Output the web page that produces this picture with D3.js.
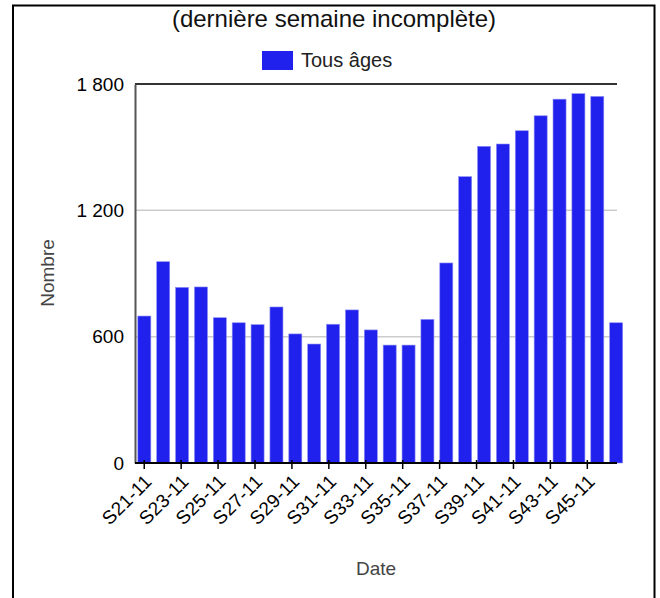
<!DOCTYPE html>
<html>
<head>
<meta charset="utf-8">
<script src="https://cdn.jsdelivr.net/npm/d3@7"></script>
<style>
  body { margin: 0; background: #fff; }
  svg { display: block; font-family: "Liberation Sans", Arial, sans-serif; }
</style>
</head>
<body>
<script>
// weekly counts, all ages
const weeks = ["S21-11","S22-11","S23-11","S24-11","S25-11","S26-11","S27-11","S28-11","S29-11","S30-11","S31-11","S32-11","S33-11",
               "S34-11","S35-11","S36-11","S37-11","S38-11","S39-11","S40-11","S41-11","S42-11","S43-11","S44-11","S45-11","S46-11"];
const counts = [698, 956, 834, 836, 690, 666, 657, 741, 613, 565, 659, 727, 632,
                560, 560, 682, 950, 1360, 1504, 1515, 1578, 1649, 1728, 1754, 1741, 666];
const yTicks = [0, 600, 1200, 1800];
const seriesName = "Tous âges";

const width = 660, height = 598;
const plot = {left: 135, right: 617, top: 84, bottom: 463};
const barColor = "#2121ee";

const svg = d3.select("body").append("svg")
  .attr("width", width)
  .attr("height", height);

// outer frame (bottom edge runs off the picture)
svg.append("path")
  .attr("d", `M13,${height + 5} V5.5 H654.5 V${height + 5}`)
  .attr("fill", "none")
  .attr("stroke", "#000")
  .attr("stroke-width", 2);

const y = d3.scaleLinear().domain([0, 1800]).range([plot.bottom, plot.top]);
// tick positions along the axis
const xAxisScale = d3.scaleBand().domain(weeks).range([plot.left, 615]);
// bars are spread a little wider than the axis
const xBars = d3.scaleBand().domain(weeks).range([plot.left, 625.5]).paddingInner(0.31).paddingOuter(0.15);

// gridlines
svg.append("g").selectAll("line")
  .data(yTicks.filter(d => d > 0 && d < 1800))
  .join("line")
  .attr("x1", plot.left).attr("x2", plot.right)
  .attr("y1", d => y(d)).attr("y2", d => y(d))
  .attr("stroke", "#cccccc")
  .attr("stroke-width", 1.5);

// top line at 1800
svg.append("line")
  .attr("x1", plot.left).attr("x2", plot.right)
  .attr("y1", y(1800)).attr("y2", y(1800))
  .attr("stroke", "#333").attr("stroke-width", 2);

// bars
svg.append("g").selectAll("rect")
  .data(counts)
  .join("rect")
  .attr("x", (d, i) => xBars(weeks[i]))
  .attr("y", d => y(d))
  .attr("width", xBars.bandwidth())
  .attr("height", d => y(0) - y(d))
  .attr("fill", barColor)
  .attr("stroke", "#8c8cf5")
  .attr("stroke-width", 0.6);

// left axis
const yAxis = d3.axisLeft(y)
  .tickValues(yTicks)
  .tickSize(0)
  .tickPadding(11)
  .tickFormat(d => d3.format(",")(d).replace(",", " "));
const gy = svg.append("g").attr("transform", `translate(${plot.left},0)`).call(yAxis);
gy.select(".domain").attr("stroke", "#555").attr("stroke-width", 2);
gy.selectAll("text").attr("font-size", 19).attr("fill", "#000")
  .attr("font-family", "Liberation Sans, Arial, sans-serif");

// bottom axis
const xAxis = d3.axisBottom(xAxisScale)
  .tickValues(weeks.filter((d, i) => i % 2 === 0))
  .tickSize(6)
  .tickSizeOuter(0);
const gx = svg.append("g").attr("transform", `translate(0,${plot.bottom})`).call(xAxis);
gx.select(".domain").attr("d", `M${plot.left},0H${plot.right}`).attr("stroke", "#000").attr("stroke-width", 2);
gx.selectAll(".tick line").attr("stroke", "#000").attr("stroke-width", 1.5).attr("y1", -3);
gx.selectAll("text")
  .attr("font-size", 19)
  .attr("letter-spacing", 0.2)
  .attr("fill", "#000")
  .attr("font-family", "Liberation Sans, Arial, sans-serif")
  .attr("text-anchor", "end")
  .attr("dy", "0.35em")
  .attr("transform", "translate(4,15) rotate(-45)")
  .attr("y", 0)
  .attr("x", 0);

// title
svg.append("text")
  .attr("x", 334).attr("y", 27)
  .attr("text-anchor", "middle")
  .attr("font-size", 24)
  .attr("fill", "#111")
  .text("(dernière semaine incomplète)");

// legend
svg.append("rect")
  .attr("x", 262).attr("y", 51)
  .attr("width", 31).attr("height", 19)
  .attr("fill", barColor);
svg.append("text")
  .attr("x", 301).attr("y", 67)
  .attr("font-size", 20)
  .attr("fill", "#222")
  .text(seriesName);

// axis titles
svg.append("text")
  .attr("transform", "translate(54,273) rotate(-90)")
  .attr("text-anchor", "middle")
  .attr("font-size", 19)
  .attr("fill", "#444")
  .text("Nombre");
svg.append("text")
  .attr("x", 376).attr("y", 575)
  .attr("text-anchor", "middle")
  .attr("font-size", 19)
  .attr("fill", "#444")
  .text("Date");
</script>
</body>
</html>
